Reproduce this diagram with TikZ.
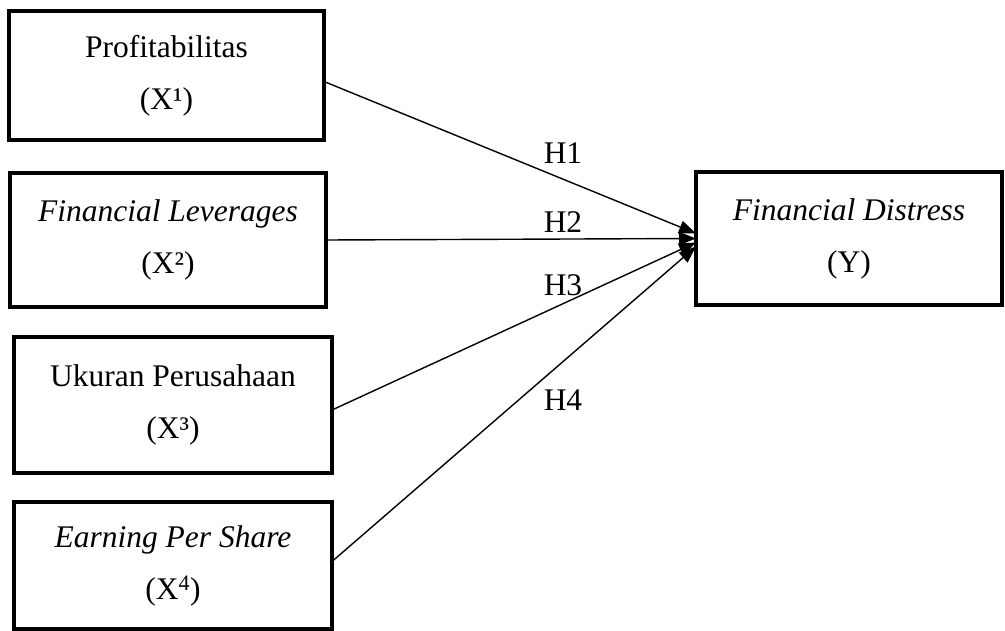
\documentclass[tikz,border=0pt]{standalone}
\usepackage{fontspec}
\setmainfont{Liberation Serif}
\usepackage{tikz}
\usetikzlibrary{arrows.meta, calc}

\tikzset{
  varbox/.style={draw, line width=3.5pt, inner sep=0pt, outer sep=0pt,
    align=center, font=\fontsize{31.5}{52}\selectfont},
  hlink/.style={line width=1.4pt, -{Triangle[length=17pt,width=13pt]}},
  hlabel/.style={font=\fontsize{31.5}{36}\selectfont, inner sep=0pt},
}

\begin{document}
\begin{tikzpicture}[x=1pt, y=-1pt]
        \useasboundingbox (0,0) rectangle (1005,631);
        % independent variables (left column)
        \node[varbox, minimum width=315pt, minimum height=129pt] (prof) at (166.5,75.5)
          {Profitabilitas\\(X¹)};
        \node[varbox, minimum width=316pt, minimum height=134pt] (lev) at (168,240)
          {\textit{Financial Leverages}\\(X²)};
        \node[varbox, minimum width=318pt, minimum height=136pt] (size) at (173,405)
          {Ukuran Perusahaan\\(X³)};
        \node[varbox, minimum width=318pt, minimum height=127pt] (eps) at (173,565.5)
          {\textit{Earning Per Share}\\(X\textsuperscript{4})};
        % dependent variable
        \node[varbox, minimum width=306pt, minimum height=133pt] (fd) at (849,238.5)
          {\textit{Financial Distress}\\(Y)};
        % hypotheses
        \draw[hlink] ([yshift=-6pt]prof.east) -- ([yshift=5pt]fd.west);
        \draw[hlink] (lev.east) -- (fd.west);
        \draw[hlink] ([yshift=-5pt]size.east) -- ([yshift=-4pt]fd.west);
        \draw[hlink] ([yshift=4pt]eps.east) -- ([yshift=-8pt]fd.west);
        \node[hlabel] (h1) at (563,153) {H1};
        \node[hlabel] (h2) at (563,222) {H2};
        \node[hlabel] (h3) at (563,285) {H3};
        \node[hlabel] (h4) at (563,400) {H4};
      \end{tikzpicture}
\end{document}
